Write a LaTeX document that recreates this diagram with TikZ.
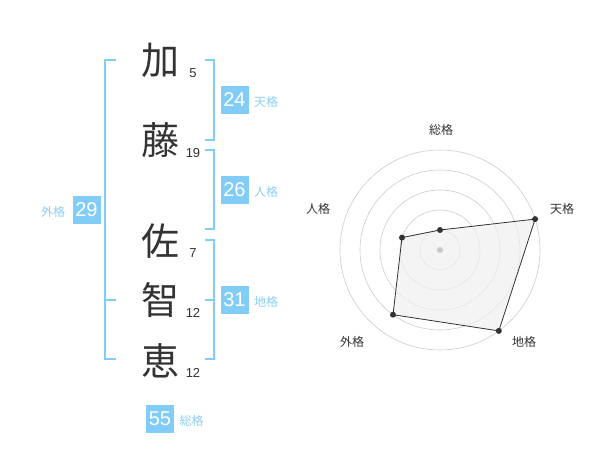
\documentclass[tikz,border=0pt]{standalone}
\usepackage{fontspec}
\setmainfont{Liberation Sans}
\newfontfamily\jp{Noto Sans CJK JP}
\definecolor{kblue}{HTML}{82CDF8}
\definecolor{klab}{HTML}{8CCFF5}
\definecolor{ink}{HTML}{333333}
\begin{document}
\begin{tikzpicture}[x=1pt,y=-1pt,
 bigchar/.style={font=\jp\fontsize{38}{38}\selectfont, text=ink, inner sep=0},
 strokes/.style={font=\fontsize{13}{13}\selectfont, text=ink, inner sep=0},
 numbox/.style={fill=kblue, text=white, minimum width=28pt, minimum height=28pt, inner sep=0, font=\fontsize{20}{20}\selectfont},
 kaku/.style={font=\jp\fontsize{12}{12}\selectfont, text=klab, inner sep=0},
 brk/.style={draw=kblue, line width=1.5pt},
 ring/.style={draw=black!20, line width=0.6pt},
 rlab/.style={font=\jp\fontsize{12}{12}\selectfont, text=ink, inner sep=0},
 dot/.style={circle, fill=ink, inner sep=0, minimum size=6pt}]
\useasboundingbox (0,0) rectangle (600,470);
\fill[white] (0,0) rectangle (600,470);

% name characters
\node[bigchar] (c1) at (160,60) {加};
\node[bigchar] (c2) at (160,140) {藤};
\node[bigchar] (c3) at (160,241) {佐};
\node[bigchar] (c4) at (160,300) {智};
\node[bigchar] (c5) at (160,361) {恵};
\node[strokes] (s1) at (193,73) {5};
\node[strokes] (s2) at (193,153) {19};
\node[strokes] (s3) at (193,253) {7};
\node[strokes] (s4) at (193,313) {12};
\node[strokes] (s5) at (193,373) {12};

% brackets
\draw[brk] (205,60) -- (214,60) -- (214,140) -- (205,140);
\draw[brk] (205,150) -- (214,150) -- (214,229) -- (205,229);
\draw[brk] (205,240) -- (214,240) -- (214,359) -- (205,359);
\draw[brk] (205,300) -- (214,300);
\draw[brk] (116,60) -- (105,60) -- (105,359) -- (116,359);
\draw[brk] (105,300) -- (116,300);

% number boxes
\node[numbox] (ten) at (234.5,100) {24};
\node[kaku] (tenl) at (266,102) {天格};
\node[numbox] (jin) at (234.5,190) {26};
\node[kaku] (jinl) at (266,192) {人格};
\node[numbox] (chi) at (234.5,300) {31};
\node[kaku] (chil) at (266,302) {地格};
\node[numbox] (gai) at (86.5,210) {29};
\node[kaku] (gail) at (53,212) {外格};
\node[numbox] (sou) at (160,419) {55};
\node[kaku] (soul) at (191.5,421) {総格};

% radar chart
\foreach \r in {20,40,60,80,100} \draw[ring] (440,250) circle (\r);
\coordinate (rs) at (440,230);
\coordinate (rt) at (535.1,219.1);
\coordinate (rc) at (498.8,330.9);
\coordinate (rg) at (393,314.7);
\coordinate (rj) at (402,237.6);
\filldraw[fill=black!6, fill opacity=0.7, draw=ink, line width=0.8pt] (rs) -- (rt) -- (rc) -- (rg) -- (rj) -- cycle;
\fill[black!22] (440,250) circle (3);
\foreach \p in {rs,rt,rc,rg,rj} \node[dot] at (\p) {};
\node[rlab] (ls) at (441,130) {総格};
\node[rlab] (lt) at (562,209) {天格};
\node[rlab] (lj) at (318,209) {人格};
\node[rlab] (lg) at (352,342) {外格};
\node[rlab] (lc) at (524,342) {地格};
\end{tikzpicture}
\end{document}
